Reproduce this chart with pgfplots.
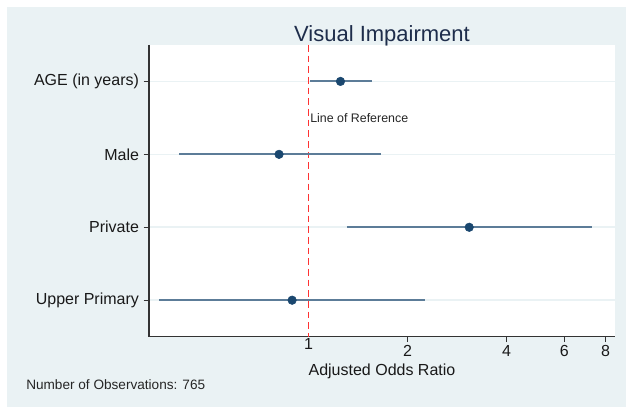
\documentclass[border=0pt]{standalone}
\usepackage{fontspec}
\setmainfont{Liberation Sans}
\usepackage{pgfplots}
\pgfplotsset{compat=1.18}
\definecolor{bgc}{RGB}{234,242,244}
\definecolor{navy}{RGB}{26,71,111}
\definecolor{cil}{RGB}{92,124,152}
\definecolor{ttl}{RGB}{30,45,75}
\definecolor{refred}{RGB}{255,50,50}

\begin{document}
\begin{tikzpicture}
  % canvas 626x407 px, 1px = 0.75pt
  \fill[white] (0,0) rectangle (469.5pt,-305.25pt);
  \fill[bgc] (5.25pt,-5.25pt) rectangle (469.5pt,-305.25pt);
  \node[anchor=base west, inner sep=0pt, font=\fontsize{10.2}{12}\selectfont, text=black!85]
    at (19.5pt,-292pt) {Number of Observations: 765};

  \begin{axis}[
      at={(111.75pt,-252.5pt)}, anchor=south west,
      scale only axis,
      width=349.5pt, height=218.8pt,
      xmode=log,
      xmin=0.327, xmax=8.55,
      ymin=0.5, ymax=4.5,
      y dir=reverse,
      axis background/.style={fill=white},
      axis x line*=bottom, axis y line*=left,
      axis line style={-, draw=black!80, line width=0.8pt},
      xtick={2,4,6,8},
      xticklabels={2,4,6,8},
      xticklabel style={yshift=-1.6pt, inner sep=1pt},
      extra x ticks={1},
      extra x tick labels={1},
      extra x tick style={tick style={draw=none}, xticklabel style={yshift=5.4pt}},
      ytick={1,2,3,4},
      yticklabels={AGE (in years),Male,Private,Upper Primary},
      minor tick num=0,
      tick align=outside,
      major tick length=4pt,
      tick style={draw=black!80, line width=0.6pt},
      tick label style={font=\fontsize{12}{14}\selectfont, text=black!90},
      ymajorgrids,
      y grid style={draw=bgc, line width=1.2pt},
      title={Visual Impairment},
      title style={font=\fontsize{16.5}{19}\selectfont, text=ttl,
        at={(axis description cs:0.5,1)}, anchor=base, yshift=-3.5pt},
      xlabel={Adjusted Odds Ratio},
      xlabel style={font=\fontsize{12}{14}\selectfont, text=black!90,
        at={(axis description cs:0.5,0)}, anchor=north, inner sep=0pt, yshift=-20.2pt},
      clip=false,
    ]
    % reference line at OR = 1
    \addplot[refred, line width=0.8pt, dash pattern=on 5pt off 3pt] coordinates {(1,0.5) (1,4.5)};
    \node[anchor=west, inner sep=0pt, font=\fontsize{9.3}{11}\selectfont, text=black!85]
      at (axis cs:1.01,1.5) {Line of Reference};

    % confidence intervals
    \addplot[cil, line width=1.5pt] coordinates {(1.01,1) (1.556,1)};
    \addplot[cil, line width=1.5pt] coordinates {(0.404,2) (1.658,2)};
    \addplot[cil, line width=1.5pt] coordinates {(1.307,3) (7.29,3)};
    \addplot[cil, line width=1.5pt] coordinates {(0.351,4) (2.266,4)};

    % point estimates
    \addplot[only marks, mark=*, mark size=3.2pt, navy, mark options={fill=navy, draw=navy}]
      coordinates {(1.25,1) (0.813,2) (3.08,3) (0.891,4)};
  \end{axis}
\end{tikzpicture}
\end{document}
